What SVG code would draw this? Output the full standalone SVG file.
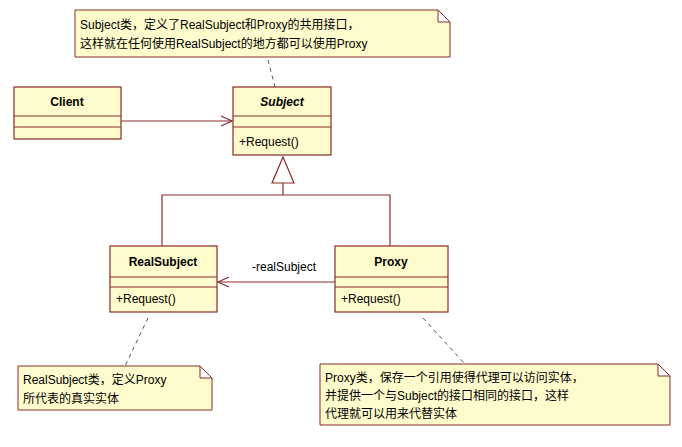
<svg xmlns="http://www.w3.org/2000/svg" width="682" height="447" viewBox="0 0 682 447">
<style>
.box{fill:#fefccc;stroke:#8b2a2a;stroke-width:1.2}
.note{fill:#fefccc;stroke:#8b2a2a;stroke-width:1}
.t{font-family:"Liberation Sans","Noto Sans CJK SC",sans-serif;font-size:12px;fill:#000}
.b{font-weight:bold;text-anchor:middle}
.ln{stroke:#8b2a2a;stroke-width:1.2;fill:none}
.dash{stroke:#555;stroke-width:1;stroke-dasharray:4,4;fill:none}
</style>
<defs>
<marker id="open" markerWidth="14" markerHeight="12" refX="12" refY="6" orient="auto" markerUnits="userSpaceOnUse"><path d="M1,1 L12,6 L1,11" fill="none" stroke="#8b2a2a" stroke-width="1.2"/></marker>
</defs>
<rect width="682" height="447" fill="#fff"/>
<g id="note-subject">
<path class="note" d="M75,10 H438 L450,22 V57 H75 Z M438,10 V22 H450"/>
<text class="t" x="80" y="29">Subject类，定义了RealSubject和Proxy的共用接口，</text>
<text class="t" x="80" y="48">这样就在任何使用RealSubject的地方都可以使用Proxy</text>
</g>
<g id="client">
<rect class="box" x="14" y="87" width="107" height="52"/>
<line class="ln" x1="14" y1="116" x2="121" y2="116"/><line class="ln" x1="14" y1="127" x2="121" y2="127"/>
<text class="t b" x="67" y="106">Client</text>
</g>
<g id="subject">
<rect class="box" x="233" y="87" width="98" height="68"/>
<line class="ln" x1="233" y1="116" x2="331" y2="116"/><line class="ln" x1="233" y1="127" x2="331" y2="127"/>
<text class="t b" x="282" y="106" font-style="italic">Subject</text>
<text class="t" x="239" y="146">+Request()</text>
</g>
<g id="realsubject">
<rect class="box" x="110" y="246" width="107" height="66"/>
<line class="ln" x1="110" y1="277" x2="217" y2="277"/><line class="ln" x1="110" y1="287" x2="217" y2="287"/>
<text class="t b" x="163" y="266">RealSubject</text>
<text class="t" x="116" y="303">+Request()</text>
</g>
<g id="proxy">
<rect class="box" x="335" y="246" width="113" height="66"/>
<line class="ln" x1="335" y1="277" x2="448" y2="277"/><line class="ln" x1="335" y1="287" x2="448" y2="287"/>
<text class="t b" x="391" y="266">Proxy</text>
<text class="t" x="341" y="303">+Request()</text>
</g>
<g id="note-real">
<path class="note" d="M18,366 H200 L212,378 V410 H18 Z M200,366 V378 H212"/>
<text class="t" x="23" y="384">RealSubject类，定义Proxy</text>
<text class="t" x="23" y="403">所代表的真实实体</text>
</g>
<g id="note-proxy">
<path class="note" d="M320,364 H658 L670,376 V425 H320 Z M658,364 V376 H670"/>
<text class="t" x="325" y="382">Proxy类，保存一个引用使得代理可以访问实体，</text>
<text class="t" x="325" y="400">并提供一个与Subject的接口相同的接口，这样</text>
<text class="t" x="325" y="418">代理就可以用来代替实体</text>
</g>
<g id="connectors">
<line class="ln" x1="121" y1="121" x2="232" y2="121" marker-end="url(#open)"/>
<path class="dash" d="M268,60 L275,87"/>
<path class="ln" d="M162,246 V195 H390 V246 M283,195 V183"/>
<path d="M283,157 L272,183 H294 Z" fill="#fff" stroke="#8b2a2a" stroke-width="1.2"/>
<line class="ln" x1="335" y1="282" x2="218" y2="282" marker-end="url(#open)"/>
<text class="t" x="252" y="271">-realSubject</text>
<path class="dash" d="M148,318 L125,366"/>
<path class="dash" d="M423,318 L465,364"/>
</g>
</svg>
